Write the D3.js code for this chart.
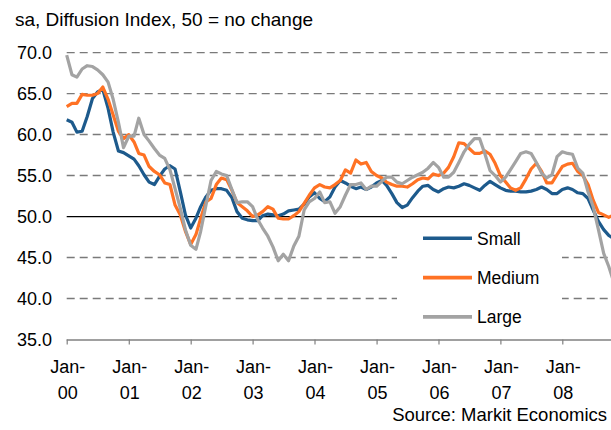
<!DOCTYPE html>
<html>
<head>
<meta charset="utf-8">
<script src="https://cdn.jsdelivr.net/npm/d3@7"></script>
<style>
  body { margin: 0; background: #fff; }
  svg { display: block; font-family: "Liberation Sans", Arial, sans-serif; }
</style>
</head>
<body>
<div id="chart"></div>
<script>
// monthly survey readings, Jan-00 .. Nov-08
var seriesNames = ["Small", "Medium", "Large"];
var seriesColors = ["#1d5a8c", "#ff7224", "#a3a3a3"];

var small = [61.8, 61.5, 60.3, 60.4, 62.2, 64.4, 65.2, 65.5, 63.2, 60.3, 58.0, 57.8,
	57.4, 57.0, 56.2, 55.1, 54.2, 53.9, 54.9, 55.8, 56.2, 55.8, 53.0, 50.2,
	48.6, 49.8, 51.2, 52.4, 53.2, 53.4, 53.4, 53.2, 52.3, 50.6, 49.8, 49.6,
	49.5, 49.5, 50.1, 50.3, 50.2, 50.1, 50.3, 50.7, 50.8, 50.9, 51.5, 52.4,
	52.9, 52.2, 51.8, 52.4, 53.6, 54.4, 54.1, 53.7, 53.4, 53.6, 53.3, 53.6,
	54.1, 54.4, 53.8, 52.8, 51.7, 51.1, 51.4, 52.3, 53.1, 53.7, 53.8, 53.3,
	53.0, 53.4, 53.6, 53.5, 53.7, 54.0, 53.8, 53.5, 53.2, 53.8, 54.3, 53.9,
	53.5, 53.2, 53.1, 53.1, 53.0, 53.0, 53.1, 53.3, 53.6, 53.3, 52.8, 52.8,
	53.3, 53.5, 53.3, 52.9, 52.8, 52.2, 50.8, 49.4, 48.4, 47.7, 47.3];

var medium = [63.4, 63.8, 63.8, 64.9, 64.8, 64.8, 65.0, 65.8, 64.3, 62.4, 60.4, 59.5,
	60.0, 59.1, 57.7, 57.5, 56.1, 55.5, 55.1, 54.1, 53.9, 51.4, 50.2, 48.2,
	46.6, 47.8, 49.8, 51.8, 52.2, 53.9, 54.7, 54.5, 53.2, 51.7, 51.2, 50.7,
	50.0, 50.2, 50.6, 51.2, 50.9, 49.8, 49.7, 49.7, 50.1, 50.6, 51.6, 52.6,
	53.5, 53.9, 53.6, 53.5, 53.9, 54.4, 55.7, 55.3, 56.9, 56.4, 56.6, 55.5,
	55.0, 54.7, 54.2, 53.9, 53.7, 53.7, 53.6, 54.0, 54.5, 54.7, 54.6, 55.2,
	55.0, 55.3, 56.0, 57.3, 59.0, 58.9, 58.3, 57.7, 57.7, 58.0, 57.6, 56.5,
	55.0, 54.2, 53.5, 53.2, 53.5, 54.6, 55.8, 56.5, 55.5, 54.1, 54.1, 55.1,
	56.1, 56.4, 56.5, 55.5, 55.0, 53.9, 52.0, 50.5, 50.2, 49.9, 50.2];

var large = [69.7, 67.3, 67.0, 68.0, 68.4, 68.3, 67.9, 67.3, 66.4, 64.3, 61.5, 58.4,
	59.8, 59.8, 62.0, 60.0, 59.2, 58.3, 57.5, 57.1, 55.7, 53.4, 51.0, 48.4,
	46.5, 46.0, 48.2, 51.4, 54.4, 55.5, 55.2, 55.0, 53.3, 51.7, 51.8, 51.8,
	51.2, 49.6, 48.6, 47.6, 46.3, 44.6, 45.4, 44.6, 46.4, 47.6, 50.8, 51.8,
	52.2, 53.0, 51.7, 51.8, 50.4, 51.2, 52.6, 53.9, 53.9, 54.1, 53.3, 53.7,
	53.7, 54.3, 54.8, 54.8, 54.2, 54.0, 54.4, 54.8, 55.1, 55.4, 55.9, 56.6,
	56.0, 54.8, 54.8, 55.4, 56.6, 57.9, 58.8, 59.5, 59.5, 57.7, 55.6, 55.0,
	54.2, 54.8, 55.7, 56.7, 57.7, 57.9, 57.7, 56.6, 55.3, 54.7, 55.1, 57.3,
	57.9, 57.7, 57.6, 55.9, 55.3, 53.0, 51.2, 48.4, 45.5, 43.9, 41.9];

var yTicks = [35, 40, 45, 50, 55, 60, 65, 70];
var yearLabels = ["00", "01", "02", "03", "04", "05", "06", "07", "08"];

var width = 611, height = 430;

var svg = d3.select("#chart").append("svg")
	.attr("width", width)
	.attr("height", height);

svg.append("rect").attr("width", width).attr("height", height).attr("fill", "#fff");

var months = d3.timeMonth.range(new Date(2000, 0, 1), new Date(2000, 0 + small.length, 1));
var yearTicks = yearLabels.map(function(d, i) { return new Date(2000 + i, 0, 1); });

var x = d3.scaleTime()
	.domain([new Date(2000, 0, 1), new Date(2008, 0, 1)])
	.range([66.7, 562.3]);
var y = d3.scaleLinear().domain([35, 70]).range([339.5, 52.6]);

// title
svg.append("text")
	.attr("x", 15)
	.attr("y", 26)
	.style("font-size", "19px")
	.text("sa, Diffusion Index, 50 = no change");

// horizontal grid
svg.append("g").selectAll("line")
	.data(yTicks.filter(function(d) { return d != 35 && d != 50; }))
  .enter().append("line")
	.attr("x1", 66.7).attr("x2", width)
	.attr("y1", function(d) { return y(d); })
	.attr("y2", function(d) { return y(d); })
	.attr("stroke", "#7a7a7a")
	.attr("stroke-width", 1.4)
	.attr("stroke-dasharray", "8,5");

// y labels
svg.append("g").selectAll("text")
	.data(yTicks)
  .enter().append("text")
	.attr("x", 52)
	.attr("y", function(d) { return y(d); })
	.attr("dy", "0.36em")
	.attr("text-anchor", "end")
	.style("font-size", "18px")
	.text(function(d) { return d3.format(".1f")(d); });

// x axis
var xAxis = svg.append("g")
	.attr("transform", "translate(0," + y(35) + ")")
	.call(d3.axisBottom(x).tickValues(yearTicks).tickSize(5).tickSizeOuter(0).tickFormat(""));
xAxis.select(".domain").attr("d", "M66.7,0.5H" + width).attr("stroke", "#808080").attr("stroke-width", 1.3);
xAxis.selectAll(".tick line").attr("stroke", "#808080").attr("stroke-width", 1.2);

var xl = svg.append("g").selectAll("text")
	.data(yearTicks)
  .enter().append("text")
	.attr("text-anchor", "middle")
	.style("font-size", "18px");
xl.append("tspan")
	.attr("x", function(d) { return x(d) + 1; })
	.attr("y", 373)
	.text("Jan-");
xl.append("tspan")
	.attr("x", function(d) { return x(d) + 1; })
	.attr("y", 399)
	.text(function(d, i) { return yearLabels[i]; });

// legend box hides grid behind it
svg.append("rect")
	.attr("x", 397).attr("y", 223)
	.attr("width", 165).attr("height", 110)
	.attr("fill", "#fff");

// 50 = no change line
svg.append("line")
	.attr("x1", 66.7).attr("x2", width)
	.attr("y1", y(50)).attr("y2", y(50))
	.attr("stroke", "#000")
	.attr("stroke-width", 1.3);

var valueline = d3.line()
	.x(function(d, i) { return x(months[i]); })
	.y(function(d) { return y(d); });

[small, medium, large].forEach(function(s, k) {
	svg.append("path")
		.datum(s)
		.attr("d", valueline)
		.attr("fill", "none")
		.attr("stroke", seriesColors[k])
		.attr("stroke-width", 3.2)
		.attr("stroke-linejoin", "round");
});

// legend
var leg = svg.append("g").selectAll("g")
	.data(seriesNames)
  .enter().append("g")
	.attr("transform", function(d, i) { return "translate(0," + (238.3 + i * 39.3) + ")"; });
leg.append("line")
	.attr("x1", 423).attr("x2", 472)
	.attr("stroke", function(d, i) { return seriesColors[i]; })
	.attr("stroke-width", 3.6);
leg.append("text")
	.attr("x", 477)
	.attr("dy", "0.36em")
	.style("font-size", "17.5px")
	.text(function(d) { return d; });

// source
svg.append("text")
	.attr("x", 607)
	.attr("y", 421)
	.attr("text-anchor", "end")
	.style("font-size", "18.5px")
	.text("Source: Markit Economics");
</script>
</body>
</html>
